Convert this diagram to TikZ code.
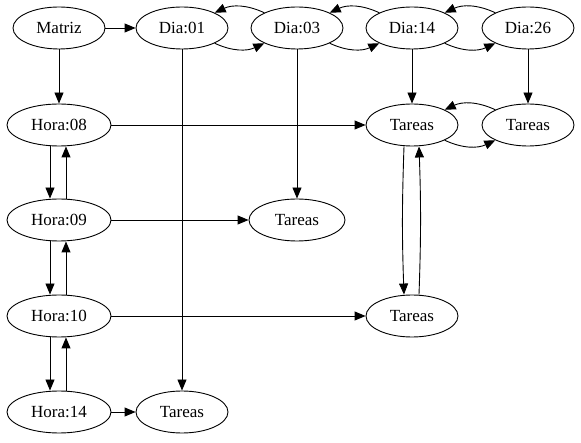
\documentclass[tikz,border=0pt]{standalone}
\usepackage{fontspec}
\setmainfont{Liberation Serif}
\newfontfamily\timesf{Liberation Serif}
\usetikzlibrary{arrows.meta,shapes.geometric}
\tikzset{
  nd/.style={draw,ellipse,line width=0.9pt,inner sep=0pt,minimum height=42pt,minimum width=92pt,font=\timesf\fontsize{17}{19}\selectfont},
  hr/.style={nd,minimum width=104pt},
  ar/.style={line width=0.9pt,-{Triangle[length=11pt,width=9pt]}},
}
\begin{document}
\begin{tikzpicture}[x=1pt,y=-1pt]
\useasboundingbox (0,0) rectangle (581,443);
\node[nd] (m) at (59,28) {Matriz};
\node[nd] (d1) at (182,28) {Dia:01};
\node[nd] (d3) at (297,28) {Dia:03};
\node[nd] (d14) at (412,28) {Dia:14};
\node[nd] (d26) at (528,28) {Dia:26};
\node[hr] (h8) at (59,125) {Hora:08};
\node[hr] (h9) at (59,220) {Hora:09};
\node[hr] (h10) at (59,316) {Hora:10};
\node[hr] (h14) at (59,412) {Hora:14};
\node[nd] (t1) at (412,125) {Tareas};
\node[nd] (t2) at (528,125) {Tareas};
\node[nd,minimum width=96pt] (t3) at (297,220) {Tareas};
\node[nd] (t4) at (412,316) {Tareas};
\node[nd] (t5) at (182,412) {Tareas};
% top row
\draw[ar] (m) -- (d1);
\draw[ar] (d1.-25) to[bend right=25] (d3.-155);
\draw[ar] (d3.155) to[bend right=25] (d1.25);
\draw[ar] (d3.-25) to[bend right=25] (d14.-155);
\draw[ar] (d14.155) to[bend right=25] (d3.25);
\draw[ar] (d14.-25) to[bend right=25] (d26.-155);
\draw[ar] (d26.155) to[bend right=25] (d14.25);
% downward
\draw[ar] (m) -- (h8);
\draw[ar] (d1) -- (t5);
\draw[ar] (d3) -- (t3);
\draw[ar] (d14) -- (t1);
\draw[ar] (d26) -- (t2);
% tareas pair
\draw[ar] (t1.-25) to[bend right=25] (t2.-155);
\draw[ar] (t2.155) to[bend right=25] (t1.25);
% horizontal
\draw[ar] (h8) -- (t1);
\draw[ar] (h9) -- (t3);
\draw[ar] (h10) -- (t4);
\draw[ar] (h14) -- (t5);
% hora pairs
\draw[ar] ([xshift=-9pt]h8.south) -- ([xshift=-9pt]h9.north);
\draw[ar] ([xshift=7pt]h9.north) -- ([xshift=7pt]h8.south);
\draw[ar] ([xshift=-9pt]h9.south) -- ([xshift=-9pt]h10.north);
\draw[ar] ([xshift=7pt]h10.north) -- ([xshift=7pt]h9.south);
\draw[ar] ([xshift=-9pt]h10.south) -- ([xshift=-9pt]h14.north);
\draw[ar] ([xshift=7pt]h14.north) -- ([xshift=7pt]h10.south);
% tareas vertical pair
\draw[ar] ([xshift=-8pt]t1.south) to[bend right=2] ([xshift=-8pt]t4.north);
\draw[ar] ([xshift=7pt]t4.north) to[bend right=2] ([xshift=7pt]t1.south);
\end{tikzpicture}
\end{document}
